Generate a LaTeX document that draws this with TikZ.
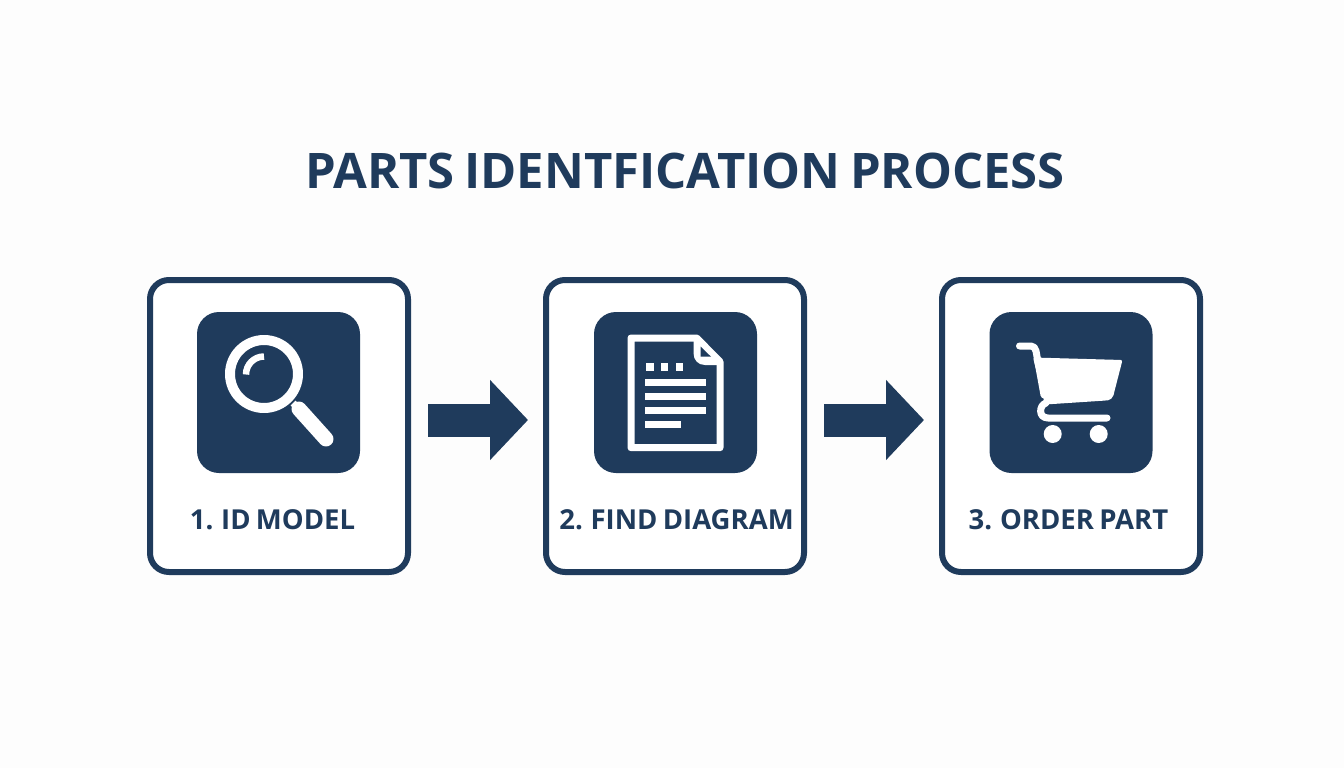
\documentclass[tikz,border=0pt]{standalone}
\usepackage{fontspec}
\setmainfont{Open Sans}[WordSpace=0.75]
\usetikzlibrary{arrows.meta}
\definecolor{navy}{HTML}{1F3B5C}
\definecolor{paper}{HTML}{FDFDFD}
\tikzset{
  x=1pt,y=-1pt,
  card/.style={draw=navy,line width=6pt,rounded corners=19pt,fill=white,minimum width=258pt,minimum height=292pt,inner sep=0pt,outer sep=0pt},
  tile/.style={fill=navy,rounded corners=22pt,minimum width=163pt,minimum height=161pt,inner sep=0pt,outer sep=0pt},
  flow/.style={draw=navy,line width=33pt,shorten <=14pt,shorten >=16pt,-{Triangle[length=38pt,width=78pt]}},
  steptext/.style={text=navy,font=\fontsize{27.5}{30}\selectfont\bfseries,inner sep=0pt,anchor=center},
  ink/.style={draw=white,line cap=butt,line join=round}
}
\begin{document}
\begin{tikzpicture}
\useasboundingbox (0,0) rectangle (1344,768);
\fill[paper] (0,0) rectangle (1344,768);
\node[text=navy,font=\fontsize{49}{52}\selectfont\bfseries,inner sep=0pt] (title) at (685,171) {PARTS IDENTFICATION PROCESS};
\node[card] (card1) at (279,426) {};
\node[card] (card2) at (675,426) {};
\node[card] (card3) at (1071,426) {};
\node[tile] (tile1) at (278.5,392.5) {};
\node[tile] (tile2) at (675.5,392.5) {};
\node[tile] (tile3) at (1071,392.5) {};
\node[steptext] (lab1) at (272.5,520) {1. ID MODEL};
\node[steptext] (lab2) at (676.5,520) {2. FIND DIAGRAM};
\node[steptext] (lab3) at (1068.5,520) {3. ORDER PART};
\coordinate (a1s) at (414,420);
\coordinate (a1e) at (544,420);
\coordinate (a2s) at (810,420);
\coordinate (a2e) at (940,420);
\draw[flow] (a1s) -- (a1e);
\draw[flow] (a2s) -- (a2e);
% magnifier
\draw[ink,line width=10pt] (264,374) circle (34);
\draw[ink,line width=6.5pt] (264,356.5) arc (270:180:18);
\draw[ink,line width=7pt] (293,403) -- (302,412);
\draw[ink,line width=15pt,line cap=round] (299,409) -- (326,439);
% document
\draw[ink,line width=7pt] (696.7,338) -- (631,338) -- (631,447.7) -- (720,447.7) -- (720,361.7) -- cycle;
\fill[white] (696,336) -- (721,361) -- (721,365) -- (705,365) .. controls (698,365) and (693.5,360) .. (693.5,353) -- (693.5,336) -- cycle;
\fill[navy] (700.7,346.7) -- (700.7,356.7) -- (711,356.7) -- cycle;
\foreach \x in {646.3,661,675.7} \fill[white] (\x,363.3) rectangle ++(7.4,7.3);
\fill[white] (645,379.3) rectangle (705.7,386.3);
\fill[white] (645,393.3) rectangle (705.7,400.3);
\fill[white] (645,407.3) rectangle (705.7,414.3);
\fill[white] (645,421) rectangle (681.3,428);
% cart
\draw[ink,line width=7pt,line cap=round] (1019.5,346) -- (1031,346) .. controls (1034,346) and (1035,348) .. (1036,351) -- (1044,395);
\fill[white,rounded corners=2pt] (1033,357.5) -- (1122.5,360) -- (1114,393) .. controls (1113,398) and (1110,400) .. (1106,400.5) -- (1045,404.5) -- cycle;
\draw[ink,line width=7pt,line cap=round] (1046,403) .. controls (1039,405) and (1038,418) .. (1048,418) -- (1107,418);
\fill[white] (1052.7,434) circle (9);
\fill[white] (1098.7,434) circle (9);
\end{tikzpicture}
\end{document}
